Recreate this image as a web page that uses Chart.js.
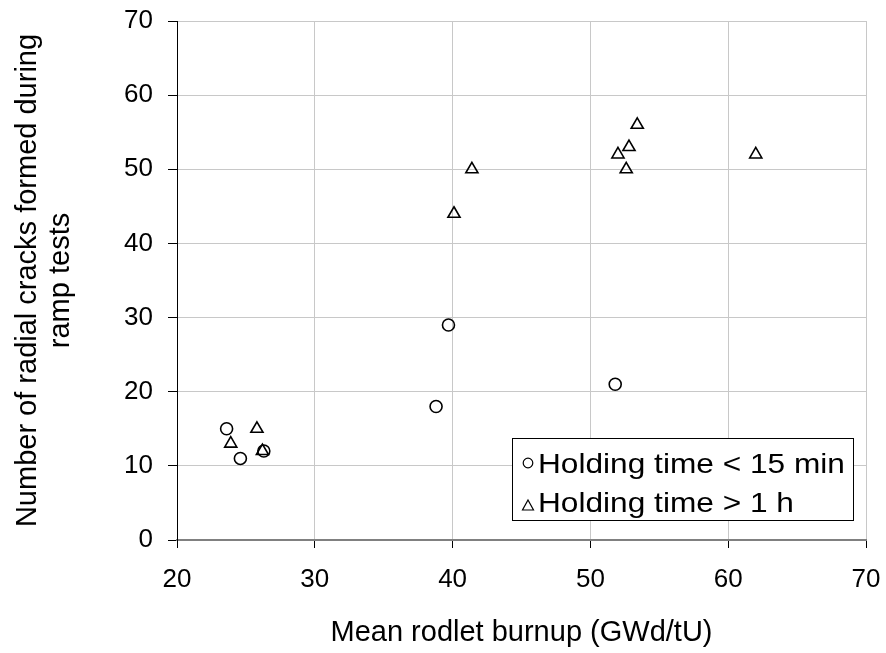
<!DOCTYPE html>
<html>
<head>
<meta charset="utf-8">
<script src="https://cdn.jsdelivr.net/npm/chart.js@4"></script>
<style>
  html, body { margin: 0; padding: 0; background: #fff; }
  #wrap { width: 886px; height: 653px; }
</style>
</head>
<body>
<div id="wrap"><canvas id="cracks"></canvas></div>
<script>
// burnup (GWd/tU) and number of cracks
const shortHoldBurnup = [23.6, 24.6, 26.3, 38.8, 39.7, 51.8];
const shortHoldCracks = [15, 11, 12, 18, 29, 21];
const longHoldBurnup = [23.9, 25.8, 26.2, 40.1, 41.4, 52.0, 52.6, 52.8, 53.4, 62.0];
const longHoldCracks = [13, 15, 12, 44, 50, 52, 50, 53, 56, 52];
const seriesNames = ["Holding time < 15 min", "Holding time > 1 h"];
const xTicks = [20, 30, 40, 50, 60, 70];
const yTicks = [0, 10, 20, 30, 40, 50, 60, 70];

const FONT = "'Liberation Sans', Arial, sans-serif";

function toPoints(xs, ys) {
  return xs.map((x, i) => ({ x: x, y: ys[i] }));
}

// legend box drawn inside the plot area, lower right
const insideLegend = {
  id: "insideLegend",
  afterDraw(chart) {
    const ctx = chart.ctx;
    const x0 = 512, y0 = 438, w = 341, h = 82;
    ctx.save();
    ctx.fillStyle = "#fff";
    ctx.fillRect(x0, y0, w, h);
    ctx.strokeStyle = "#000";
    ctx.lineWidth = 1;
    ctx.strokeRect(x0 + 0.5, y0 + 0.5, w, h);
    ctx.font = "28px " + FONT;
    ctx.fillStyle = "#000";
    ctx.textBaseline = "alphabetic";
    // circle marker
    ctx.lineWidth = 1.2;
    ctx.beginPath();
    ctx.arc(528, 463, 4.8, 0, Math.PI * 2);
    ctx.stroke();
    ctx.save();
    ctx.translate(538, 473);
    ctx.scale(1.13, 1);
    ctx.fillText(seriesNames[0], 0, 0);
    ctx.restore();
    // triangle marker
    ctx.beginPath();
    ctx.moveTo(528, 500);
    ctx.lineTo(533.5, 510);
    ctx.lineTo(522.5, 510);
    ctx.closePath();
    ctx.stroke();
    ctx.save();
    ctx.translate(538, 512);
    ctx.scale(1.13, 1);
    ctx.fillText(seriesNames[1], 0, 0);
    ctx.restore();
    ctx.restore();
  }
};

new Chart(document.getElementById("cracks"), {
  type: "scatter",
  data: {
    datasets: [
      {
        label: seriesNames[0],
        data: toPoints(shortHoldBurnup, shortHoldCracks),
        pointStyle: "circle",
        pointRadius: 6,
        borderColor: "#000",
        borderWidth: 1.6,
        backgroundColor: "rgba(0,0,0,0)",
      },
      {
        label: seriesNames[1],
        data: toPoints(longHoldBurnup, longHoldCracks),
        pointStyle: "triangle",
        pointRadius: 7,
        borderColor: "#000",
        borderWidth: 1.6,
        backgroundColor: "rgba(0,0,0,0)",
      },
    ],
  },
  options: {
    responsive: true,
    maintainAspectRatio: false,
    animation: false,
    devicePixelRatio: 1,
    layout: { padding: 0 },
    plugins: {
      legend: { display: false },
      tooltip: { enabled: false },
    },
    scales: {
      x: {
        type: "linear",
        min: 20,
        max: 70,
        afterBuildTicks: (axis) => { axis.ticks = xTicks.map((v) => ({ value: v })); },
        afterFit: (axis) => {
          axis.height = 113;
          axis.paddingLeft = 0;
          axis.paddingRight = 20; // plot area ends at x = 866
        },
        grid: { color: "#c8c8c8", tickColor: "#000", tickLength: 8, lineWidth: 1 },
        border: { color: "#808080", width: 2 },
        ticks: { color: "#000", font: { family: FONT, size: 26 }, padding: 16 },
        title: {
          display: true,
          text: "Mean rodlet burnup (GWd/tU)",
          color: "#000",
          font: { family: FONT, size: 29 },
          padding: { top: 10, bottom: 3 },
        },
      },
      y: {
        type: "linear",
        min: 0,
        max: 70,
        afterBuildTicks: (axis) => { axis.ticks = yTicks.map((v) => ({ value: v })); },
        afterFit: (axis) => {
          axis.width = 177;
          axis.paddingTop = 21; // plot area starts at y = 21
          axis.paddingBottom = 0;
        },
        grid: { color: "#c8c8c8", tickColor: "#000", tickLength: 9, lineWidth: 1 },
        border: { color: "#000", width: 1 },
        ticks: { color: "#000", font: { family: FONT, size: 26 }, padding: 15 },
        title: {
          display: true,
          text: ["Number of radial cracks formed during", "ramp tests"],
          color: "#000",
          font: { family: FONT, size: 29, lineHeight: 1.12 },
          padding: { top: 12, bottom: 10 },
        },
      },
    },
  },
  plugins: [insideLegend],
});
</script>
</body>
</html>
